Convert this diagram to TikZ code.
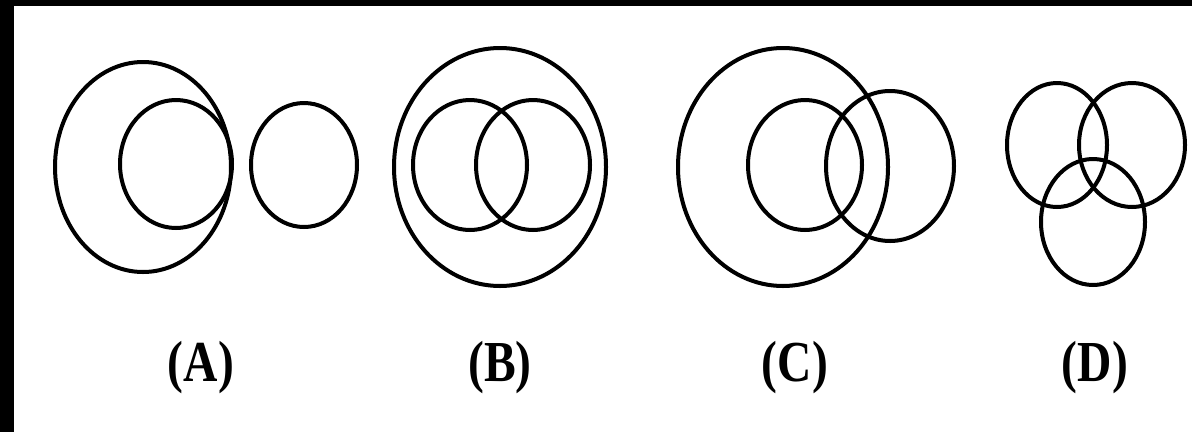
\documentclass[tikz,border=0pt]{standalone}
\usepackage{fontspec}
\setmainfont{Liberation Serif}
\begin{document}
\begin{tikzpicture}[x=1pt,y=-1pt,
  ring/.style={draw=black,line width=4pt},
  lab/.style={font=\fontsize{58}{58}\selectfont\bfseries,inner sep=0pt,anchor=center,xscale=0.82}]
\useasboundingbox (0,0) rectangle (1192,432);
\fill[white] (0,0) rectangle (1192,432);
\fill[black] (0,0) rectangle (1192,6);
\fill[black] (0,0) rectangle (14,432);
% (A)
\draw[ring] (143,167) ellipse [x radius=88, y radius=105];
\draw[ring] (176,164) ellipse [x radius=56, y radius=64];
\draw[ring] (304,165) ellipse [x radius=53, y radius=62];
% (B)
\draw[ring] (500,167) ellipse [x radius=106, y radius=119];
\draw[ring] (470,165) ellipse [x radius=57, y radius=65];
\draw[ring] (533,165) ellipse [x radius=57, y radius=65];
% (C)
\draw[ring] (783,167) ellipse [x radius=105, y radius=119];
\draw[ring] (805,165) ellipse [x radius=57, y radius=65];
\draw[ring] (890,166) ellipse [x radius=64, y radius=75];
% (D)
\draw[ring] (1057,145) ellipse [x radius=50, y radius=62];
\draw[ring] (1132,145) ellipse [x radius=53, y radius=62];
\draw[ring] (1093,222) ellipse [x radius=52, y radius=63];
% labels
\node[lab] (la) at (201,368) {(A)};
\node[lab] (lb) at (500,368) {(B)};
\node[lab] (lc) at (795,368) {(C)};
\node[lab] (ld) at (1095,368) {(D)};
\end{tikzpicture}
\end{document}
